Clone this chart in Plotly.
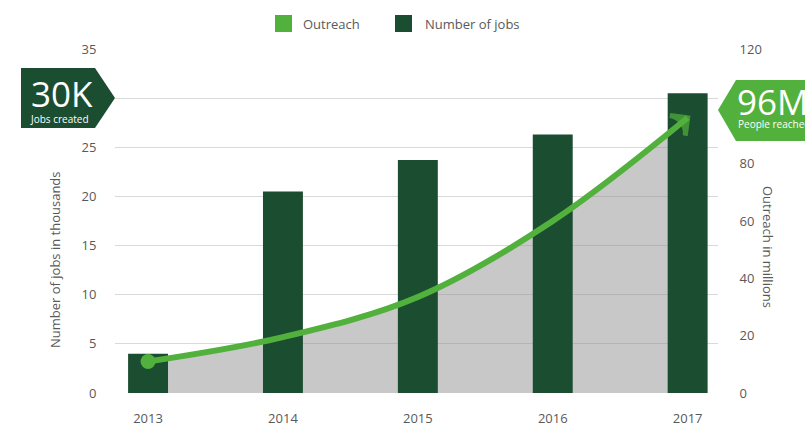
import plotly.graph_objects as go

years = ["2013", "2014", "2015", "2016", "2017"]
jobs_thousands = [4.0, 20.5, 23.7, 26.3, 30.5]
outreach_millions = [11, 19.5, 33.5, 60, 96]
left_ticks = [0, 5, 10, 15, 20, 25, 30, 35]
right_ticks = [0, 20, 40, 60, 80, 100, 120]

DARK = "#1b4d31"
GREEN = "#52b13c"
TXT = "#595959"
FONT = "Open Sans"

W, H = 805, 426
L, R, T, B = 115, 87, 49, 33
PW, PH = W - L - R, H - T - B


def px(x):
    return (x - L) / PW


def py(y):
    return (H - B - y) / PH


fig = go.Figure()

# gray area under the outreach curve (main axis, right side)
fig.add_trace(go.Scatter(
    x=years, y=outreach_millions, yaxis="y", mode="lines",
    line=dict(width=0, shape="spline", smoothing=1.0),
    fill="tozeroy", fillcolor="rgba(145,145,145,0.5)",
    showlegend=False, hoverinfo="skip"))

# bars (left axis)
fig.add_trace(go.Bar(
    x=years, y=jobs_thousands, yaxis="y2", name="Number of jobs",
    marker=dict(color=DARK, line=dict(width=0)), width=0.296,
    showlegend=False))

# outreach line with arrow head (overlay on right-axis scale)
fig.add_trace(go.Scatter(
    x=years, y=outreach_millions, yaxis="y3", mode="lines+markers",
    name="Outreach",
    line=dict(color=GREEN, width=6, shape="spline", smoothing=1.0),
    marker=dict(symbol="arrow-wide-open",
                size=[0, 0, 0, 0, 18], color=GREEN, angleref="previous",
                line=dict(width=5, color=GREEN)),
    showlegend=False))

# start dot
fig.add_trace(go.Scatter(
    x=years[:1], y=outreach_millions[:1], yaxis="y3", mode="markers",
    marker=dict(symbol="circle", size=15, color=GREEN, line=dict(width=0)),
    showlegend=False, hoverinfo="skip"))

shapes = []
annotations = []

# legend
shapes.append(dict(type="rect", xref="paper", yref="paper",
                   x0=px(275), x1=px(292), y0=py(32), y1=py(15),
                   fillcolor=GREEN, line=dict(width=0)))
shapes.append(dict(type="rect", xref="paper", yref="paper",
                   x0=px(395), x1=px(412), y0=py(32), y1=py(15),
                   fillcolor=DARK, line=dict(width=0)))
annotations.append(dict(text="Outreach", xref="paper", yref="paper",
                        x=px(301), y=py(24), xanchor="left", yanchor="middle",
                        showarrow=False, font=dict(family=FONT, size=13, color=TXT)))
annotations.append(dict(text="Number of jobs", xref="paper", yref="paper",
                        x=px(423), y=py(24), xanchor="left", yanchor="middle",
                        showarrow=False, font=dict(family=FONT, size=13, color=TXT)))

# callouts
left_pts = [(21, 68), (95, 68), (115, 98), (95, 128), (21, 128)]
right_pts = [(718, 110), (736, 80), (810, 80), (810, 141), (736, 141)]


def path(pts):
    s = "M " + " L ".join(f"{px(a):.5f},{py(b):.5f}" for a, b in pts) + " Z"
    return s


shapes.append(dict(type="path", xref="paper", yref="paper", path=path(left_pts),
                   fillcolor=DARK, line=dict(width=0), layer="above"))
shapes.append(dict(type="path", xref="paper", yref="paper", path=path(right_pts),
                   fillcolor=GREEN, line=dict(width=0), layer="above"))

annotations.append(dict(text="30K", xref="paper", yref="paper",
                        x=px(29), y=py(93), xanchor="left", yanchor="middle",
                        showarrow=False, font=dict(family=FONT, size=35, color="white")))
annotations.append(dict(text="Jobs created", xref="paper", yref="paper",
                        x=px(28), y=py(119), xanchor="left", yanchor="middle",
                        showarrow=False, font=dict(family=FONT, size=10, color="white")))
annotations.append(dict(text="96M", xref="paper", yref="paper",
                        x=px(735), y=py(101), xanchor="left", yanchor="middle",
                        showarrow=False, font=dict(family=FONT, size=35, color="white")))
annotations.append(dict(text="People reached", xref="paper", yref="paper",
                        x=px(736), y=py(124), xanchor="left", yanchor="middle",
                        showarrow=False, font=dict(family=FONT, size=10, color="white")))

# axis titles
annotations.append(dict(text="Number of jobs in thousands", xref="paper", yref="paper",
                        x=px(55), y=py(260), textangle=-90, xanchor="center", yanchor="middle",
                        showarrow=False, font=dict(family=FONT, size=13, color=TXT)))
annotations.append(dict(text="Outreach in millions", xref="paper", yref="paper",
                        x=px(768), y=py(247), textangle=90, xanchor="center", yanchor="middle",
                        showarrow=False, font=dict(family=FONT, size=13, color=TXT)))

tickfont = dict(family=FONT, size=13, color=TXT)

fig.update_layout(
    template="none",
    width=W, height=H,
    margin=dict(l=L, r=R, t=T, b=B, pad=0, autoexpand=False),
    paper_bgcolor="white", plot_bgcolor="white",
    showlegend=False,
    xaxis=dict(type="category", range=[-0.245, 4.225], showgrid=False, zeroline=False,
               showline=False, ticks="outside", ticklen=13, tickcolor="rgba(0,0,0,0)",
               tickfont=tickfont, fixedrange=True, automargin=False),
    yaxis=dict(side="right", range=[0, 120], tickvals=right_ticks, showgrid=False,
               zeroline=False, showline=False, ticks="outside", ticklen=18,
               tickcolor="rgba(0,0,0,0)", tickfont=tickfont, automargin=False),
    yaxis2=dict(side="left", overlaying="y", range=[0, 35], tickvals=left_ticks,
                showgrid=True, gridcolor="#d9d9d9", gridwidth=1, zeroline=False,
                showline=False, ticks="outside", ticklen=15, tickcolor="rgba(0,0,0,0)",
                tickfont=tickfont, automargin=False),
    yaxis3=dict(overlaying="y", range=[0, 120], visible=False),
    shapes=shapes,
    annotations=annotations,
)

fig.write_html("out.html")
